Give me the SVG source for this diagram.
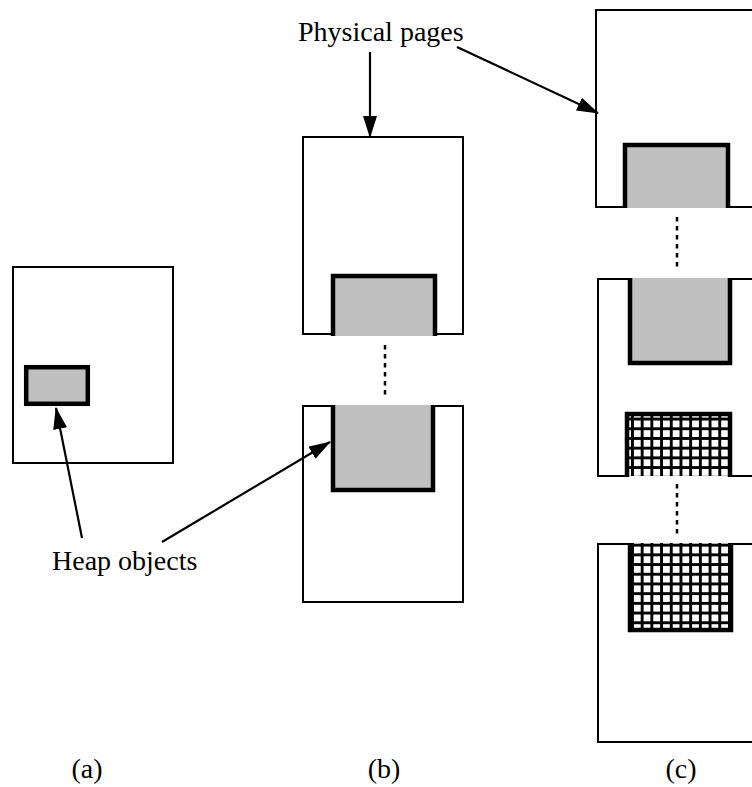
<svg xmlns="http://www.w3.org/2000/svg" width="752" height="787" viewBox="0 0 752 787">
  <style>
    .page { fill: #ffffff; stroke: #000; stroke-width: 2; }
    .edge { fill: none; stroke: #000; stroke-width: 2; }
    .obj { fill: #c0c0c0; stroke: none; }
    .grid { fill: url(#mesh); stroke: none; }
    .border { fill: none; stroke: #000; stroke-width: 4.5; stroke-linejoin: miter; }
    .arrow { fill: none; stroke: #000; stroke-width: 2.2; }
    .dots { fill: none; stroke: #000; stroke-width: 2.5; stroke-dasharray: 4.5 4.5; }
    .lbl { font-family: "Liberation Serif", "Times New Roman", serif; font-size: 28px; fill: #000; }
  </style>
  <defs>
    <marker id="head" markerUnits="userSpaceOnUse" markerWidth="22" markerHeight="14" refX="21" refY="7" orient="auto">
      <path d="M0,0 L22,7 L0,14 z" fill="#000"/>
    </marker>
    <pattern id="mesh" patternUnits="userSpaceOnUse" x="0.5" y="0.5" width="9.7" height="9.7">
      <rect width="9.7" height="9.7" fill="#fff"/>
      <rect width="9.7" height="2.9" fill="#000"/>
      <rect width="2.9" height="9.7" fill="#000"/>
    </pattern>
  </defs>

  <rect width="752" height="787" fill="#fff"/>

  <!-- (a) -->
  <g id="page-a">
    <rect class="page" x="13" y="267" width="160" height="196"/>
  </g>
  <g id="object-a">
    <rect class="obj" x="26.2" y="367.2" width="61.6" height="36.6"/>
    <rect class="border" x="26.2" y="367.2" width="61.6" height="36.6"/>
  </g>

  <!-- (b) -->
  <g id="page-b1">
    <rect fill="#fff" x="303" y="137" width="160" height="197"/>
    <path class="edge" d="M333,334 H303 V137 H463 V334 H435"/>
  </g>
  <g id="object-b1">
    <rect class="obj" x="333" y="276" width="102" height="60"/>
    <path class="border" d="M333,336 V276 H435 V336"/>
  </g>
  <g id="page-b2">
    <rect fill="#fff" x="303" y="406" width="160" height="196"/>
    <path class="edge" d="M333,406 H303 V602 H463 V406 H433"/>
  </g>
  <g id="object-b2">
    <rect class="obj" x="333" y="405" width="100" height="85"/>
    <path class="border" d="M333,405 V490 H433 V405"/>
  </g>

  <!-- (c) -->
  <g id="page-c1">
    <rect fill="#fff" x="596" y="10" width="170" height="197"/>
    <path class="edge" d="M625,207 H596 V10 H760 M728,207 H760"/>
  </g>
  <g id="object-c1">
    <rect class="obj" x="625" y="145" width="103" height="63"/>
    <path class="border" d="M625,208 V145 H728 V208"/>
  </g>
  <g id="page-c2">
    <rect fill="#fff" x="598" y="279" width="170" height="197"/>
    <path class="edge" d="M630,279 H598 V476 H627 M730,476 H760 M730,279 H760"/>
  </g>
  <g id="object-c2">
    <rect class="obj" x="630" y="278" width="100" height="85"/>
    <path class="border" d="M630,278 V363 H730 V278"/>
  </g>
  <g id="object-c3">
    <rect class="grid" x="627" y="414" width="103" height="62"/>
    <path class="border" d="M627,477 V414 H730 V477"/>
  </g>
  <g id="page-c3">
    <rect fill="#fff" x="598" y="544" width="170" height="198"/>
    <path class="edge" d="M630,544 H598 V742 H760 M731,544 H760"/>
  </g>
  <g id="object-c4">
    <rect class="grid" x="630" y="543" width="101" height="87"/>
    <path class="border" d="M630,543 V630 H731 V543"/>
  </g>

  <!-- texts -->
  <g id="label-physical">
    <text class="lbl" x="298" y="41">Physical pages</text>
  </g>
  <g id="label-heap">
    <text class="lbl" x="52" y="570">Heap objects</text>
  </g>
  <g id="caption-a"><text class="lbl" x="87" y="778" text-anchor="middle">(a)</text></g>
  <g id="caption-b"><text class="lbl" x="384" y="778" text-anchor="middle">(b)</text></g>
  <g id="caption-c"><text class="lbl" x="681" y="778" text-anchor="middle">(c)</text></g>

  <!-- connectors -->
  <g id="connectors">
    <line class="arrow" x1="370" y1="52" x2="370" y2="137" marker-end="url(#head)"/>
    <line class="arrow" x1="457" y1="47" x2="598" y2="113" marker-end="url(#head)"/>
    <line class="arrow" x1="82" y1="538" x2="56" y2="408" marker-end="url(#head)"/>
    <line class="arrow" x1="162" y1="542" x2="330" y2="442" marker-end="url(#head)"/>
    <line class="dots" x1="385" y1="345" x2="385" y2="397"/>
    <line class="dots" x1="677" y1="217" x2="677" y2="270"/>
    <line class="dots" x1="677" y1="484" x2="677" y2="537"/>
  </g>
</svg>
